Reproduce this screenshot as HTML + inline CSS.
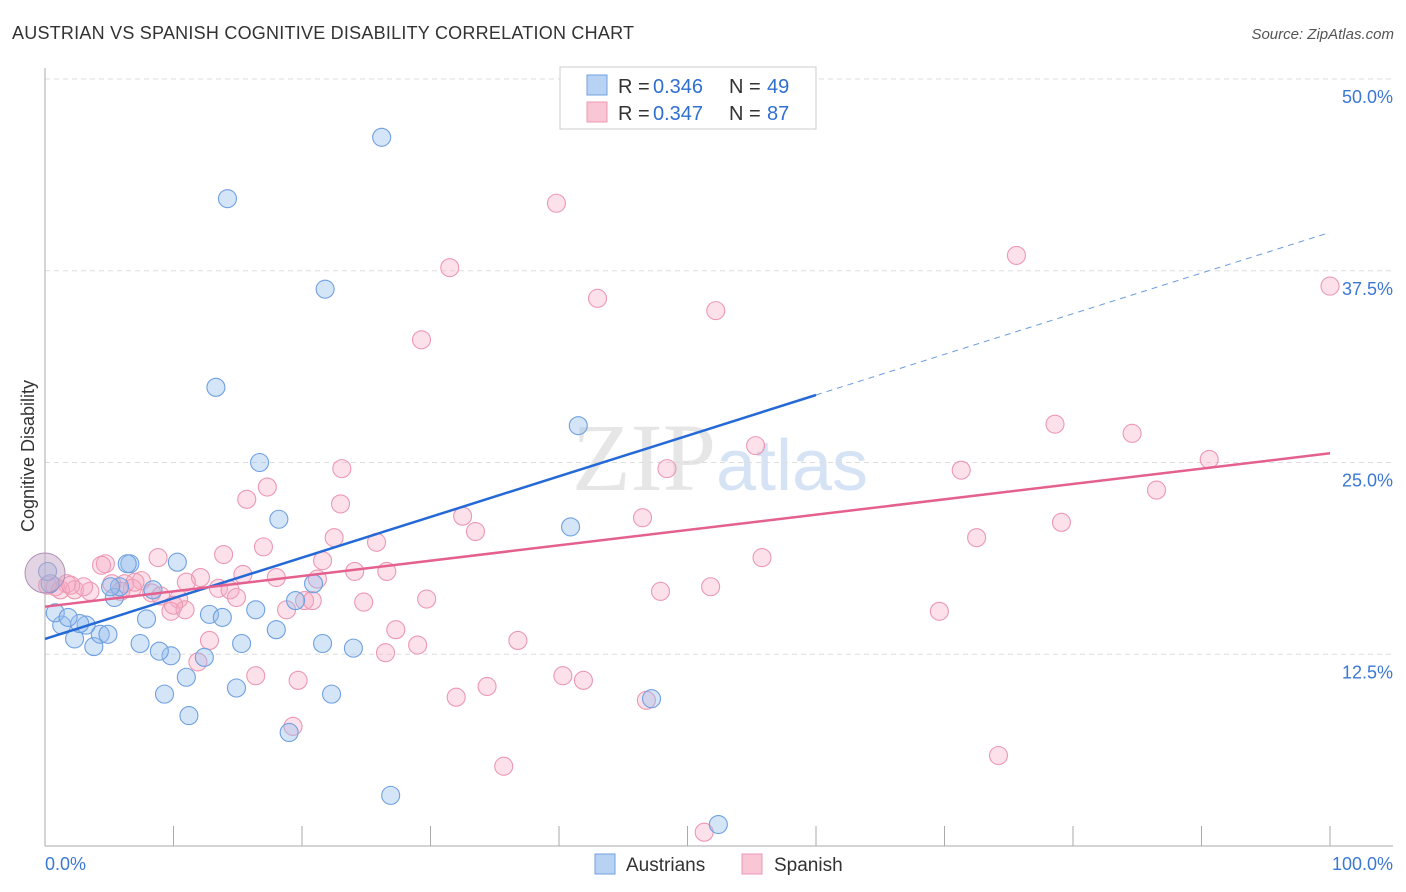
<!DOCTYPE html>
<html><head><meta charset="utf-8"><style>
body{margin:0;background:#fff;font-family:"Liberation Sans",sans-serif;}
svg{display:block}
</style></head><body>
<svg width="1406" height="892" font-family="Liberation Sans, sans-serif">
<text x="12" y="39" font-size="18" fill="#333" textLength="622">AUSTRIAN VS SPANISH COGNITIVE DISABILITY CORRELATION CHART</text>
<text x="1394" y="39" font-size="15" fill="#555" font-style="italic" text-anchor="end">Source: ZipAtlas.com</text>
<text x="720" y="490" font-size="96" fill="#e6e6e6" text-anchor="middle" font-family="Liberation Serif, serif">ZIP<tspan fill="#d6e3f5" font-family="Liberation Sans, sans-serif" font-size="72">atlas</tspan></text>
<g id="grid"></g>
<g id="axes"></g>
<text transform="translate(34,456) rotate(-90)" font-size="18" fill="#333" text-anchor="middle">Cognitive Disability</text>
<g id="marks"></g>
<g id="trends"></g>
<g>
<rect x="560" y="67" width="256" height="62" fill="#fff" stroke="#ccc"/>
<rect x="587" y="75" width="20" height="20" fill="#b8d2f3" stroke="#6fa0e0"/>
<rect x="587" y="102" width="20" height="20" fill="#f8c6d5" stroke="#ec98b2"/>
<text y="93" font-size="20" fill="#333"><tspan x="618">R = </tspan><tspan x="653" fill="#2f6fd0">0.346</tspan><tspan x="729">N = </tspan><tspan x="767" fill="#2f6fd0">49</tspan></text>
<text y="120" font-size="20" fill="#333"><tspan x="618">R = </tspan><tspan x="653" fill="#2f6fd0">0.347</tspan><tspan x="729">N = </tspan><tspan x="767" fill="#2f6fd0">87</tspan></text>
</g>
<g>
<rect x="595" y="854" width="20" height="20" fill="#b8d2f3" stroke="#6fa0e0"/>
<text x="626" y="871" font-size="19" fill="#333">Austrians</text>
<rect x="742" y="854" width="20" height="20" fill="#f8c6d5" stroke="#ec98b2"/>
<text x="774" y="871" font-size="19" fill="#333">Spanish</text>
</g>
<text x="45" y="870" font-size="18" fill="#3b78d4">0.0%</text>
<text x="1393" y="870" font-size="18" fill="#3b78d4" text-anchor="end">100.0%</text>
</svg>
<script>
const yTicks=[12.5,25,37.5,50];
const yTickLabels=["12.5%","25.0%","37.5%","50.0%"];
const xTicks=[0,10,20,30,40,50,60,70,80,90,100];
const blueX=[14.2,26.2,21.8,13.3,16.7,18.2,41.5,40.9,52.4,26.9,47.2,19.0,11.2,9.3,14.9,22.3,11.0,12.4,9.8,8.9,7.4,15.3,21.6,24.0,2.3,3.8,4.3,4.9,3.2,2.7,1.3,0.8,1.8,7.9,12.8,13.8,16.4,18.0,19.5,20.9,5.4,5.8,6.6,8.4,10.3,5.1,0.4,6.4,0.2];
const blueY=[42.2,46.2,36.3,29.9,25.0,21.3,27.4,20.8,1.4,3.3,9.6,7.4,8.5,9.9,10.3,9.9,11.0,12.3,12.4,12.7,13.2,13.2,13.2,12.9,13.5,13.0,13.8,13.8,14.4,14.5,14.4,15.2,14.9,14.8,15.1,14.9,15.4,14.1,16.0,17.1,16.2,16.9,18.4,16.7,18.5,16.9,17.1,18.4,17.9];
const pinkX=[39.8,31.5,75.6,100,43,52.2,29.3,55.3,78.6,84.6,90.6,86.5,71.3,48.4,23.1,17.3,15.7,23.0,32.5,46.5,79.1,33.5,72.5,22.5,25.8,17.0,13.9,8.8,55.8,21.6,4.7,4.4,26.6,24.1,15.4,18.0,21.2,12.1,11.0,7.5,6.2,5.2,1.7,1.2,2.3,3.5,6.8,13.5,14.4,51.8,47.9,8.3,14.9,10.4,20.2,20.8,29.7,24.8,9.8,10.9,18.8,69.6,27.3,12.8,36.8,29.0,26.5,11.9,16.4,40.3,19.7,41.9,34.4,32.0,46.8,19.3,74.2,35.7,51.3,0.2,3.0,7.0,9.0,0.8,2.0,5.9,10.0];
const pinkY=[41.9,37.7,38.5,36.5,35.7,34.9,33.0,26.1,27.5,26.9,25.2,23.2,24.5,24.6,24.6,23.4,22.6,22.3,21.5,21.4,21.1,20.5,20.1,20.1,19.8,19.5,19.0,18.8,18.8,18.6,18.4,18.3,17.9,17.9,17.7,17.5,17.4,17.5,17.2,17.3,17.1,17.1,17.1,16.7,16.7,16.6,16.8,16.8,16.7,16.9,16.6,16.5,16.2,16.1,16.0,16.0,16.1,15.9,15.3,15.4,15.4,15.3,14.1,13.4,13.4,13.1,12.6,12.0,11.1,11.1,10.8,10.8,10.4,9.7,9.5,7.8,5.9,5.2,0.9,17.0,16.9,17.2,16.3,16.9,17.0,16.6,15.7];
const blueTrend=[13.5,0.265];
const pinkTrend=[15.6,0.10];
const X=v=>45+v*12.85, Y=v=>846-v*15.34;
const NS="http://www.w3.org/2000/svg";
function mk(t,a,p){const e=document.createElementNS(NS,t);for(const k in a)e.setAttribute(k,a[k]);p.appendChild(e);return e;}
const grid=document.getElementById('grid'),axes=document.getElementById('axes'),marks=document.getElementById('marks'),tr=document.getElementById('trends');
yTicks.forEach((t,i)=>{
 const l=mk('line',{x1:45,x2:1393,y1:Y(t),y2:Y(t),stroke:'#ddd','stroke-dasharray':'5,4'},grid);
 
 
 const tx=mk('text',{x:1393,y:Y(t)+24,'font-size':18,fill:'#3b78d4','text-anchor':'end'},grid);
 tx.textContent=yTickLabels[i];
 
 
});
mk('line',{x1:45,x2:45,y1:68,y2:846,stroke:'#aaa'},axes);
mk('line',{x1:45,x2:1393,y1:846,y2:846,stroke:'#aaa'},axes);
xTicks.forEach(t=>{
 const l=mk('line',{x1:X(t),x2:X(t),y1:826,y2:846,stroke:'#aaa'},axes);
 
 
});
function dot(x,y,blue,r){
 const c=mk('circle',{cx:X(x),cy:Y(y),r:r||9,fill:blue?'rgba(150,190,238,0.4)':'rgba(245,170,195,0.35)',stroke:blue?'#6fa0e0':'#ec98b2','stroke-width':1.1},marks);
 
 
}
pinkX.forEach((x,i)=>dot(x,pinkY[i],false));
blueX.forEach((x,i)=>dot(x,blueY[i],true));
const big=mk('circle',{cx:X(0),cy:Y(17.8),r:20,fill:'rgba(200,170,200,0.5)',stroke:'#b090b8'},marks);


const b1=mk('line',{x1:X(0),y1:Y(blueTrend[0]),x2:X(60),y2:Y(blueTrend[0]+60*blueTrend[1]),stroke:'#2469d6','stroke-width':2.5},tr);


const b2=mk('line',{x1:X(60),y1:Y(blueTrend[0]+60*blueTrend[1]),x2:X(100),y2:Y(blueTrend[0]+100*blueTrend[1]),stroke:'#6a9be0','stroke-width':1,'stroke-dasharray':'6,5'},tr);


const p1=mk('line',{x1:X(0),y1:Y(pinkTrend[0]),x2:X(100),y2:Y(pinkTrend[0]+100*pinkTrend[1]),stroke:'#e4608e','stroke-width':2.5},tr);


</script>
</body></html>
